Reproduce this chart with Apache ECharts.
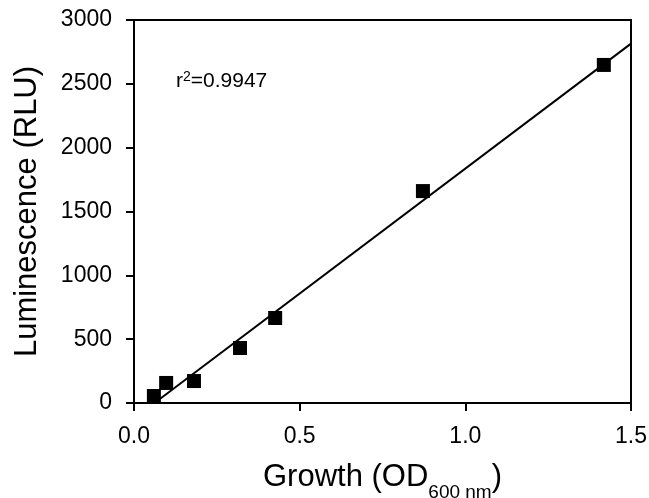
<!DOCTYPE html>
<html>
<head>
<meta charset="utf-8">
<script src="https://cdn.jsdelivr.net/npm/echarts@6/dist/echarts.min.js"></script>
<style>
html,body{margin:0;padding:0;background:#fff;}
#main{width:649px;height:498px;}
</style>
</head>
<body>
<div id="main"></div>
<script>
// data
var growth = [0.06, 0.097, 0.181, 0.32, 0.426, 0.872, 1.418];
var lumin = [55, 157, 172, 431, 666, 1660, 2648];
// regression line ends
var fitX = [0.062, 1.5];
var fitY = [0, 2815];
var xTicks = ['0.0', '0.5', '1.0', '1.5'];
var rSquared = '0.9947';

var font = 'Liberation Sans, Arial, Helvetica, sans-serif';
var myChart = echarts.init(document.getElementById('main'));

var pts = growth.map(function (g, i) { return [g, lumin[i]]; });
var line = fitX.map(function (x, i) { return [x, fitY[i]]; });

var option = {
    animation: false,
    backgroundColor: '#fff',
    grid: {
        left: 134, right: 18, top: 20, bottom: 95,
        containLabel: false, outerBoundsMode: 'none',
        show: true, borderColor: '#000', borderWidth: 2
    },
    xAxis: {
        type: 'value', min: 0, max: 1.5, interval: 0.5,
        name: '{a|Growth (OD}{s|600 nm}{a|)}',
        nameLocation: 'middle', nameGap: 56,
        nameTextStyle: {
            rich: {
                a: { fontFamily: font, fontSize: 31, color: '#000', verticalAlign: 'bottom', lineHeight: 34 },
                s: { fontFamily: font, fontSize: 19, color: '#000', verticalAlign: 'bottom', lineHeight: 20, padding: [0, 0, -9, 0] }
            }
        },
        axisLine: { show: true, lineStyle: { color: '#000', width: 2 } },
        axisTick: { show: true, inside: false, length: 8, lineStyle: { color: '#000', width: 2 } },
        axisLabel: {
            fontFamily: font, fontSize: 23, color: '#000', margin: 22,
            formatter: function (v) { return xTicks[Math.round(v / 0.5)]; }
        },
        splitLine: { show: false }
    },
    yAxis: {
        type: 'value', min: 0, max: 3000, interval: 500,
        name: 'Luminescence (RLU)',
        nameLocation: 'middle', nameGap: 91, nameRotate: 90,
        nameTextStyle: { fontFamily: font, fontSize: 31, color: '#000' },
        axisLine: { show: true, lineStyle: { color: '#000', width: 2 } },
        axisTick: { show: true, inside: false, length: 8, lineStyle: { color: '#000', width: 2 } },
        axisLabel: {
            fontFamily: font, fontSize: 23, color: '#000', margin: 22,
            formatter: function (v) { return String(v); }
        },
        splitLine: { show: false }
    },
    series: [
        {
            type: 'line', data: line, symbol: 'none',
            lineStyle: { color: '#000', width: 2 }, z: 2
        },
        {
            type: 'scatter', data: pts, symbol: 'rect', symbolSize: 14,
            itemStyle: { color: '#000', opacity: 1 }, z: 3
        }
    ],
    graphic: [{
        type: 'text', left: 176, top: 70,
        style: {
            text: '{a|r}{s|2}{a|=' + rSquared + '}',
            rich: {
                a: { fontFamily: font, fontSize: 21, fill: '#000', verticalAlign: 'bottom', lineHeight: 26 },
                s: { fontFamily: font, fontSize: 14, fill: '#000', verticalAlign: 'bottom', lineHeight: 26, padding: [0, 0, 8, 0] }
            }
        }
    }]
};
myChart.setOption(option);
</script>
</body>
</html>
